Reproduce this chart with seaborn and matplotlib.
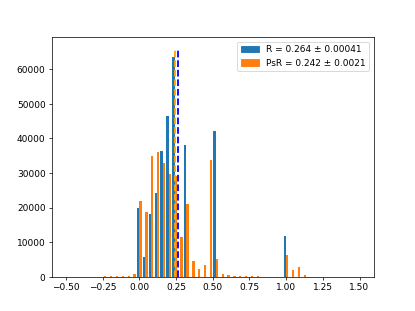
import numpy as np
import pandas as pd
import matplotlib
matplotlib.use("Agg")
import matplotlib.pyplot as plt
import seaborn as sns
from matplotlib.patches import Patch

# histogram: 50 bins over [-0.5, 1.5]
n_bins = 50
bin_range = (-0.5, 1.5)
bin_edges = np.linspace(bin_range[0], bin_range[1], n_bins + 1)
bin_centers = (bin_edges[:-1] + bin_edges[1:]) / 2

# counts per bin
r_counts = np.zeros(n_bins)
r_counts[[12, 13, 14, 15, 16, 17, 18, 20, 25, 37]] = [
    20000, 5700, 18200, 24200, 36400, 46500, 63500, 38000, 42100, 11800]

psr_counts = np.array([
    0, 0, 0, 20, 40, 60, 100, 150, 200, 250,
    350, 700, 22000, 18800, 34800, 36000, 32800, 29800, 29000, 11400,
    20900, 4700, 2200, 3400, 33900, 5000, 850, 400, 300, 250,
    150, 100, 80, 60, 50, 40, 30, 6200, 2050, 2850,
    550, 60, 40, 30, 20, 30, 0, 0, 0, 0])

labels = ["R = 0.264 ± 0.00041", "PsR = 0.242 ± 0.0021"]
means = [0.264, 0.242]
line_colors = ["blue", "orange"]
line_top = 66000

df = pd.concat([
    pd.DataFrame({"value": bin_centers, "count": r_counts, "series": labels[0]}),
    pd.DataFrame({"value": bin_centers, "count": psr_counts, "series": labels[1]}),
])

palette = {labels[0]: "#1f77b4", labels[1]: "#ff7f0e"}

fig, ax = plt.subplots(figsize=(6.4, 4.8), dpi=64.85)
sns.histplot(data=df, x="value", weights="count", hue="series", bins=n_bins,
             binrange=bin_range, multiple="dodge", shrink=0.8, palette=palette,
             alpha=1, linewidth=0, legend=False, ax=ax)

ax.vlines(means[1], 0, line_top, colors=line_colors[1], linestyles="--", linewidth=2)
ax.vlines(means[0], 0, line_top, colors=line_colors[0], linestyles="--", linewidth=2)

handles = [Patch(color=palette[l]) for l in labels]
ax.legend(handles, labels, loc="upper right")
ax.set_xlabel("")
ax.set_ylabel("")
ax.set_xticks(np.arange(-0.5, 1.51, 0.25))

fig.savefig("out.png")
